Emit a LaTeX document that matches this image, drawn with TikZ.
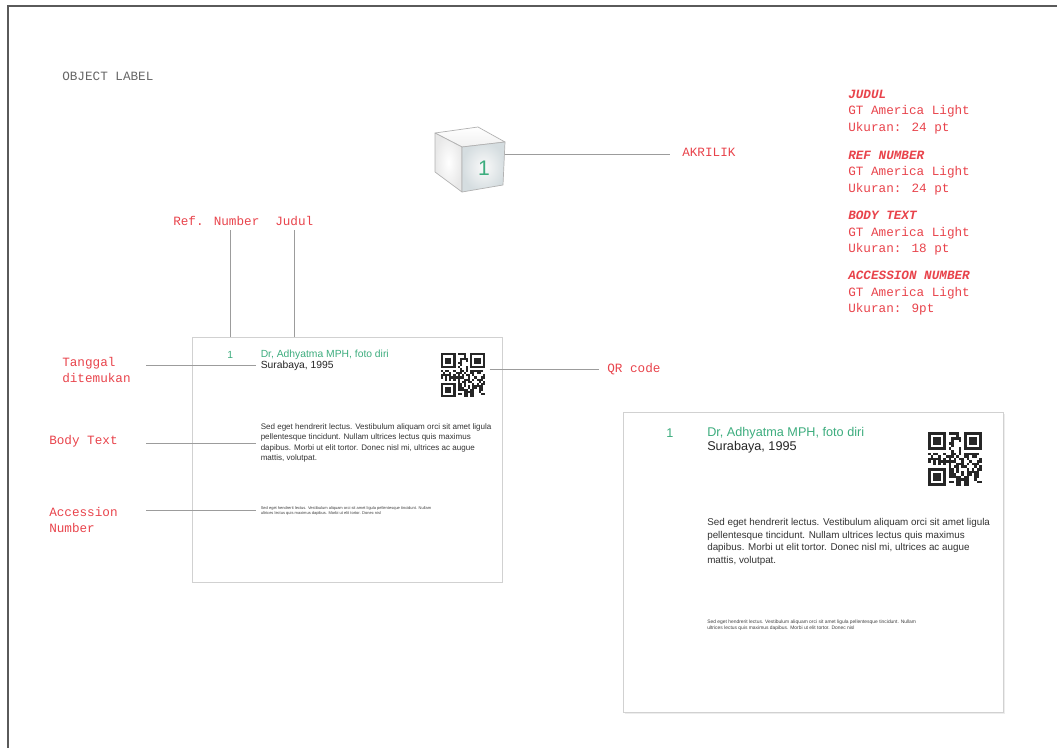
\documentclass[tikz,border=0pt]{standalone}
\usepackage{fontspec}
\setmainfont{Liberation Sans}
\newfontfamily\monofont{Liberation Mono}

\definecolor{labelred}{HTML}{E8434B}
\definecolor{refgreen}{HTML}{3DAD7E}
\definecolor{leadgray}{HTML}{9C9C9C}
\definecolor{framegray}{HTML}{5A5A5A}
\definecolor{cubeblue}{HTML}{D5DDE0}

\tikzset{
  redlabel/.style={font=\monofont\fontsize{9}{11.6}\selectfont, text=labelred, inner sep=0pt, align=left},
  leader/.style={draw=leadgray, line width=0.7pt},
  card/.style={draw=black!18, fill=white, line width=0.6pt, anchor=north west,
    minimum width=9.5cm, minimum height=7.5cm, inner sep=0pt},
  refno/.style={font=\fontsize{9}{10}\selectfont, text=refgreen, inner sep=0pt},
  cardtitle/.style={font=\fontsize{9}{10}\selectfont, text=refgreen, inner sep=0pt, anchor=west},
  cardtext/.style={font=\fontsize{9}{10}\selectfont, text=black!85, inner sep=0pt, anchor=west},
  bodytext/.style={font=\fontsize{7}{9}\selectfont, text=black!80, inner sep=0pt, anchor=west, align=left},
  acctext/.style={font=\fontsize{3.5}{4.3}\selectfont, text=black!75, inner sep=0pt, anchor=west, align=left},
  qrbox/.style={anchor=north west, minimum size=1.35cm, inner sep=0pt},
  cubeedge/.style={draw=black!30, line width=0.5pt, line join=round},
}

% one object label, 380 x 300 units, drawn from its top left corner
\newcommand{\labelcard}{%
  \fill[black!7] (1.5,1.5) rectangle (381.5,301.5);
  \node[card] (card) at (0,0) {};
  \node[refno] (num) at (47,21.5) {1};
  \node[cardtitle] (title) at (84,21.5) {Dr, Adhyatma MPH, foto diri};
  \node[cardtext] (place) at (84,35.5) {Surabaya, 1995};
  % qr code: 21 x 21 modules
  \node[qrbox] (qr) at (305,20) {};
  \pgfmathsetseed{1995}
  \foreach \i in {0,...,20}{
    \foreach \j in {0,...,20}{
      \pgfmathtruncatemacro\bit{(rnd<0.56)&&!((\i<8&&\j<8)||(\i>12&&\j<8)||(\i<8&&\j>12))}
      \ifnum\bit=1 \fill[black!85] (305+\i*2.5714,20+\j*2.5714) rectangle ++(2.5714,2.5714);\fi
    }
  }
  \foreach \fx/\fy in {0/0,14/0,0/14}{
    \fill[black!85] (305+\fx*2.5714,20+\fy*2.5714) rectangle ++(18,18);
    \fill[white] (305+\fx*2.5714+2.5714,20+\fy*2.5714+2.5714) rectangle ++(12.857,12.857);
    \fill[black!85] (305+\fx*2.5714+5.1428,20+\fy*2.5714+5.1428) rectangle ++(7.714,7.714);
  }
  \node[bodytext] (body) at (84,130) {Sed eget hendrerit lectus. Vestibulum aliquam orci sit amet ligula\\
    pellentesque tincidunt. Nullam ultrices lectus quis maximus\\
    dapibus. Morbi ut elit tortor. Donec nisl mi, ultrices ac augue\\
    mattis, volutpat.};
  \node[acctext] (acc) at (84,213) {Sed eget hendrerit lectus. Vestibulum aliquam orci sit amet ligula pellentesque tincidunt. Nullam\\
    ultrices lectus quis maximus dapibus. Morbi ut elit tortor. Donec nisl};
}

\begin{document}
\begin{tikzpicture}[x=0.025cm, y=-0.025cm]
  \useasboundingbox (0,0) rectangle (1057,748);
  \draw[framegray, line width=1.5pt] (1057,6) -- (8,6) -- (8,748);

  \node[font=\monofont\fontsize{9}{11}\selectfont, text=black!60, inner sep=0pt, anchor=west] (title-obj) at (62,76) {OBJECT LABEL};

  % acrylic block
  \shadedraw[cubeedge, top color=white, bottom color=black!6] (435,133) -- (478,127) -- (505,142) -- (462,147) -- cycle;
  \shadedraw[cubeedge, inner color=white, outer color=black!9] (435,133) -- (462,147) -- (462,192) -- (435,172) -- cycle;
  \shadedraw[cubeedge, inner color=black!2, outer color=cubeblue] (462,147) -- (505,142) -- (503,185) -- (462,192) -- cycle;
  \node[font=\fontsize{15}{15}\selectfont, text=refgreen, inner sep=0pt] (cubeno) at (484,168) {1};
  \coordinate (cube-r) at (505,154);
  \node[redlabel, anchor=west] (akrilik) at (682,152) {AKRILIK};
  \draw[leader, shorten >=8.5pt] (cube-r) -- (cube-r -| akrilik.west);

  % type specs
  \node[redlabel, anchor=north west] (spec-judul) at (848,90) {{\bfseries\itshape JUDUL}\\GT America Light\\Ukuran: 24 pt};
  \node[redlabel, anchor=north west] (spec-ref) at (848,151) {{\bfseries\itshape REF NUMBER}\\GT America Light\\Ukuran: 24 pt};
  \node[redlabel, anchor=north west] (spec-body) at (848,211) {{\bfseries\itshape BODY TEXT}\\GT America Light\\Ukuran: 18 pt};
  \node[redlabel, anchor=north west] (spec-acc) at (848,271) {{\bfseries\itshape ACCESSION NUMBER}\\GT America Light\\Ukuran: 9pt};

  % the two labels
  \begin{scope}[shift={(192,337)}, scale=0.816, transform shape, name prefix=s-]
    \labelcard
  \end{scope}
  \begin{scope}[shift={(623,412)}, name prefix=b-]
    \labelcard
  \end{scope}

  % callouts
  \node[redlabel, anchor=west] (refnum) at (173,221) {Ref. Number};
  \node[redlabel, anchor=west] (judul) at (275,221) {Judul};
  \node[redlabel, anchor=north west] (tanggal) at (62,357) {Tanggal\\ditemukan};
  \node[redlabel, anchor=west] (bodylab) at (49,441) {Body Text};
  \node[redlabel, anchor=north west] (acclab) at (49,507) {Accession\\Number};
  \node[redlabel, anchor=west] (qrlab) at (607,369) {QR code};
  \coordinate (lx) at (146,0);

  \draw[leader, shorten <=3pt] (s-num |- refnum.south) -- (s-num |- s-card.north);
  \draw[leader, shorten <=3pt] (judul.south) -- (judul.south |- s-card.north);
  \draw[leader, shorten >=3pt] (lx |- s-place.west) -- (s-place.west);
  \draw[leader, shorten >=3pt] (lx |- s-body.west) -- (s-body.west);
  \draw[leader, shorten >=3pt] (lx |- s-acc.west) -- (s-acc.west);
  \draw[leader, shorten <=3pt, shorten >=6pt] (s-qr.east |- qrlab.west) -- (qrlab.west);
\end{tikzpicture}
\end{document}
